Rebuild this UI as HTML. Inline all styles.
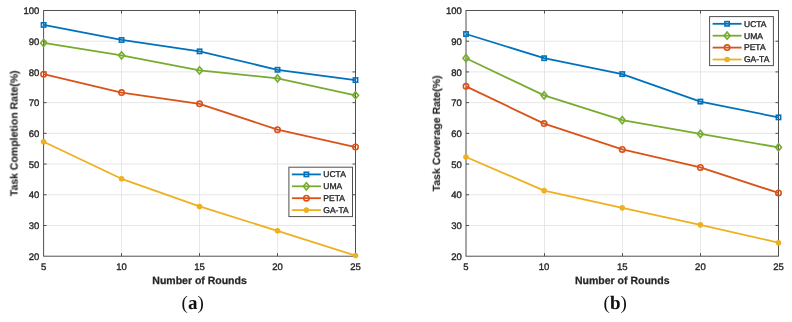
<!DOCTYPE html>
<html><head><meta charset="utf-8"><style>
html,body{margin:0;padding:0;background:#fff;}
svg{display:block;}
text{will-change:transform;text-rendering:geometricPrecision;}
.t{font-family:"Liberation Sans",sans-serif;font-size:9.5px;fill:#262626;stroke:#262626;stroke-width:0.35px;}
.lb{font-family:"Liberation Sans",sans-serif;font-size:10.5px;font-weight:bold;fill:#262626;stroke:#262626;stroke-width:0.25px;}
.lg{font-family:"Liberation Sans",sans-serif;font-size:8.5px;fill:#262626;stroke:#262626;stroke-width:0.35px;}
.sl{font-family:"Liberation Serif",serif;font-size:19px;fill:#111;}
</style></head><body>
<svg width="792" height="322" viewBox="0 0 792 322">
<rect width="792" height="322" fill="#fff"/>
<line x1="121.50" y1="10.5" x2="121.50" y2="256.2" stroke="#e6e6e6" stroke-width="1"/>
<line x1="199.50" y1="10.5" x2="199.50" y2="256.2" stroke="#e6e6e6" stroke-width="1"/>
<line x1="277.50" y1="10.5" x2="277.50" y2="256.2" stroke="#e6e6e6" stroke-width="1"/>
<line x1="43.6" y1="225.49" x2="355.5" y2="225.49" stroke="#e6e6e6" stroke-width="1"/>
<line x1="43.6" y1="194.78" x2="355.5" y2="194.78" stroke="#e6e6e6" stroke-width="1"/>
<line x1="43.6" y1="164.06" x2="355.5" y2="164.06" stroke="#e6e6e6" stroke-width="1"/>
<line x1="43.6" y1="133.35" x2="355.5" y2="133.35" stroke="#e6e6e6" stroke-width="1"/>
<line x1="43.6" y1="102.64" x2="355.5" y2="102.64" stroke="#e6e6e6" stroke-width="1"/>
<line x1="43.6" y1="71.92" x2="355.5" y2="71.92" stroke="#e6e6e6" stroke-width="1"/>
<line x1="43.6" y1="41.21" x2="355.5" y2="41.21" stroke="#e6e6e6" stroke-width="1"/>
<line x1="43.6" y1="225.49" x2="46.6" y2="225.49" stroke="#505050" stroke-width="1"/>
<line x1="355.5" y1="225.49" x2="352.5" y2="225.49" stroke="#505050" stroke-width="1"/>
<line x1="43.6" y1="194.78" x2="46.6" y2="194.78" stroke="#505050" stroke-width="1"/>
<line x1="355.5" y1="194.78" x2="352.5" y2="194.78" stroke="#505050" stroke-width="1"/>
<line x1="43.6" y1="164.06" x2="46.6" y2="164.06" stroke="#505050" stroke-width="1"/>
<line x1="355.5" y1="164.06" x2="352.5" y2="164.06" stroke="#505050" stroke-width="1"/>
<line x1="43.6" y1="133.35" x2="46.6" y2="133.35" stroke="#505050" stroke-width="1"/>
<line x1="355.5" y1="133.35" x2="352.5" y2="133.35" stroke="#505050" stroke-width="1"/>
<line x1="43.6" y1="102.64" x2="46.6" y2="102.64" stroke="#505050" stroke-width="1"/>
<line x1="355.5" y1="102.64" x2="352.5" y2="102.64" stroke="#505050" stroke-width="1"/>
<line x1="43.6" y1="71.92" x2="46.6" y2="71.92" stroke="#505050" stroke-width="1"/>
<line x1="355.5" y1="71.92" x2="352.5" y2="71.92" stroke="#505050" stroke-width="1"/>
<line x1="43.6" y1="41.21" x2="46.6" y2="41.21" stroke="#505050" stroke-width="1"/>
<line x1="355.5" y1="41.21" x2="352.5" y2="41.21" stroke="#505050" stroke-width="1"/>
<line x1="121.50" y1="256.2" x2="121.50" y2="253.2" stroke="#505050" stroke-width="1"/>
<line x1="121.50" y1="10.5" x2="121.50" y2="13.5" stroke="#505050" stroke-width="1"/>
<line x1="199.50" y1="256.2" x2="199.50" y2="253.2" stroke="#505050" stroke-width="1"/>
<line x1="199.50" y1="10.5" x2="199.50" y2="13.5" stroke="#505050" stroke-width="1"/>
<line x1="277.50" y1="256.2" x2="277.50" y2="253.2" stroke="#505050" stroke-width="1"/>
<line x1="277.50" y1="10.5" x2="277.50" y2="13.5" stroke="#505050" stroke-width="1"/>
<rect x="43.6" y="10.5" width="311.90" height="245.70" fill="none" stroke="#505050" stroke-width="1"/>
<polyline points="43.60,24.93 121.57,39.98 199.55,51.35 277.52,69.78 355.50,80.06" fill="none" stroke="#0072BD" stroke-width="1.8" stroke-linejoin="round"/>
<rect x="41.45" y="22.78" width="4.30" height="4.30" fill="none" stroke="#0072BD" stroke-width="1.6"/>
<rect x="119.42" y="37.83" width="4.30" height="4.30" fill="none" stroke="#0072BD" stroke-width="1.6"/>
<rect x="197.40" y="49.20" width="4.30" height="4.30" fill="none" stroke="#0072BD" stroke-width="1.6"/>
<rect x="275.38" y="67.63" width="4.30" height="4.30" fill="none" stroke="#0072BD" stroke-width="1.6"/>
<rect x="353.35" y="77.91" width="4.30" height="4.30" fill="none" stroke="#0072BD" stroke-width="1.6"/>
<polyline points="43.60,42.90 121.57,55.34 199.55,70.39 277.52,78.37 355.50,95.27" fill="none" stroke="#77AC30" stroke-width="1.8" stroke-linejoin="round"/>
<path d="M43.60 39.30L46.60 42.90L43.60 46.50L40.60 42.90Z" fill="none" stroke="#77AC30" stroke-width="1.6"/>
<path d="M121.57 51.74L124.57 55.34L121.57 58.94L118.57 55.34Z" fill="none" stroke="#77AC30" stroke-width="1.6"/>
<path d="M199.55 66.79L202.55 70.39L199.55 73.99L196.55 70.39Z" fill="none" stroke="#77AC30" stroke-width="1.6"/>
<path d="M277.52 74.77L280.52 78.37L277.52 81.97L274.52 78.37Z" fill="none" stroke="#77AC30" stroke-width="1.6"/>
<path d="M355.50 91.67L358.50 95.27L355.50 98.87L352.50 95.27Z" fill="none" stroke="#77AC30" stroke-width="1.6"/>
<polyline points="43.60,74.20 121.57,92.59 199.55,103.87 277.52,129.66 355.50,147.02" fill="none" stroke="#D95319" stroke-width="1.8" stroke-linejoin="round"/>
<circle cx="43.60" cy="74.20" r="2.7" fill="none" stroke="#D95319" stroke-width="1.6"/>
<circle cx="121.57" cy="92.59" r="2.7" fill="none" stroke="#D95319" stroke-width="1.6"/>
<circle cx="199.55" cy="103.87" r="2.7" fill="none" stroke="#D95319" stroke-width="1.6"/>
<circle cx="277.52" cy="129.66" r="2.7" fill="none" stroke="#D95319" stroke-width="1.6"/>
<circle cx="355.50" cy="147.02" r="2.7" fill="none" stroke="#D95319" stroke-width="1.6"/>
<polyline points="43.60,141.80 121.57,178.80 199.55,206.45 277.52,230.86 355.50,255.59" fill="none" stroke="#EDB120" stroke-width="1.8" stroke-linejoin="round"/>
<circle cx="43.60" cy="141.80" r="2.8" fill="#EDB120"/>
<circle cx="121.57" cy="178.80" r="2.8" fill="#EDB120"/>
<circle cx="199.55" cy="206.45" r="2.8" fill="#EDB120"/>
<circle cx="277.52" cy="230.86" r="2.8" fill="#EDB120"/>
<circle cx="355.50" cy="255.59" r="2.8" fill="#EDB120"/>
<text transform="translate(39.40 259.90)" text-anchor="end" class="t">20</text>
<text transform="translate(39.40 229.19)" text-anchor="end" class="t">30</text>
<text transform="translate(39.40 198.47)" text-anchor="end" class="t">40</text>
<text transform="translate(39.40 167.76)" text-anchor="end" class="t">50</text>
<text transform="translate(39.40 137.05)" text-anchor="end" class="t">60</text>
<text transform="translate(39.40 106.34)" text-anchor="end" class="t">70</text>
<text transform="translate(39.40 75.62)" text-anchor="end" class="t">80</text>
<text transform="translate(39.40 44.91)" text-anchor="end" class="t">90</text>
<text transform="translate(39.40 14.20)" text-anchor="end" class="t">100</text>
<text transform="translate(43.60 270.1)" text-anchor="middle" class="t">5</text>
<text transform="translate(121.57 270.1)" text-anchor="middle" class="t">10</text>
<text transform="translate(199.55 270.1)" text-anchor="middle" class="t">15</text>
<text transform="translate(277.52 270.1)" text-anchor="middle" class="t">20</text>
<text transform="translate(355.50 270.1)" text-anchor="middle" class="t">25</text>
<text x="199.55" y="283.9" text-anchor="middle" class="lb">Number of Rounds</text>
<text x="17.9" y="133.35" text-anchor="middle" class="lb" style="stroke-width:0.1px" transform="rotate(-90 17.9 133.35)">Task Completion Rate(%)</text>
<text x="192.7" y="309.0" text-anchor="middle" class="sl">(<tspan font-weight="bold">a</tspan>)</text>
<rect x="288.9" y="167.2" width="63.60" height="49.40" fill="#fff" stroke="#505050" stroke-width="1"/>
<line x1="291.90" y1="174.40" x2="320.90" y2="174.40" stroke="#0072BD" stroke-width="1.8"/>
<rect x="304.25" y="172.25" width="4.30" height="4.30" fill="none" stroke="#0072BD" stroke-width="1.6"/>
<text x="323.30" y="177.20" class="lg">UCTA</text>
<line x1="291.90" y1="186.30" x2="320.90" y2="186.30" stroke="#77AC30" stroke-width="1.8"/>
<path d="M306.40 182.70L309.40 186.30L306.40 189.90L303.40 186.30Z" fill="none" stroke="#77AC30" stroke-width="1.6"/>
<text x="323.30" y="189.10" class="lg">UMA</text>
<line x1="291.90" y1="198.20" x2="320.90" y2="198.20" stroke="#D95319" stroke-width="1.8"/>
<circle cx="306.40" cy="198.20" r="2.7" fill="none" stroke="#D95319" stroke-width="1.6"/>
<text x="323.30" y="201.00" class="lg">PETA</text>
<line x1="291.90" y1="210.10" x2="320.90" y2="210.10" stroke="#EDB120" stroke-width="1.8"/>
<circle cx="306.40" cy="210.10" r="2.8" fill="#EDB120"/>
<text x="323.30" y="212.90" class="lg">GA-TA</text>
<line x1="544.50" y1="10.5" x2="544.50" y2="256.2" stroke="#e6e6e6" stroke-width="1"/>
<line x1="622.50" y1="10.5" x2="622.50" y2="256.2" stroke="#e6e6e6" stroke-width="1"/>
<line x1="700.50" y1="10.5" x2="700.50" y2="256.2" stroke="#e6e6e6" stroke-width="1"/>
<line x1="466.0" y1="225.49" x2="778.5" y2="225.49" stroke="#e6e6e6" stroke-width="1"/>
<line x1="466.0" y1="194.78" x2="778.5" y2="194.78" stroke="#e6e6e6" stroke-width="1"/>
<line x1="466.0" y1="164.06" x2="778.5" y2="164.06" stroke="#e6e6e6" stroke-width="1"/>
<line x1="466.0" y1="133.35" x2="778.5" y2="133.35" stroke="#e6e6e6" stroke-width="1"/>
<line x1="466.0" y1="102.64" x2="778.5" y2="102.64" stroke="#e6e6e6" stroke-width="1"/>
<line x1="466.0" y1="71.92" x2="778.5" y2="71.92" stroke="#e6e6e6" stroke-width="1"/>
<line x1="466.0" y1="41.21" x2="778.5" y2="41.21" stroke="#e6e6e6" stroke-width="1"/>
<line x1="466.0" y1="225.49" x2="469.0" y2="225.49" stroke="#505050" stroke-width="1"/>
<line x1="778.5" y1="225.49" x2="775.5" y2="225.49" stroke="#505050" stroke-width="1"/>
<line x1="466.0" y1="194.78" x2="469.0" y2="194.78" stroke="#505050" stroke-width="1"/>
<line x1="778.5" y1="194.78" x2="775.5" y2="194.78" stroke="#505050" stroke-width="1"/>
<line x1="466.0" y1="164.06" x2="469.0" y2="164.06" stroke="#505050" stroke-width="1"/>
<line x1="778.5" y1="164.06" x2="775.5" y2="164.06" stroke="#505050" stroke-width="1"/>
<line x1="466.0" y1="133.35" x2="469.0" y2="133.35" stroke="#505050" stroke-width="1"/>
<line x1="778.5" y1="133.35" x2="775.5" y2="133.35" stroke="#505050" stroke-width="1"/>
<line x1="466.0" y1="102.64" x2="469.0" y2="102.64" stroke="#505050" stroke-width="1"/>
<line x1="778.5" y1="102.64" x2="775.5" y2="102.64" stroke="#505050" stroke-width="1"/>
<line x1="466.0" y1="71.92" x2="469.0" y2="71.92" stroke="#505050" stroke-width="1"/>
<line x1="778.5" y1="71.92" x2="775.5" y2="71.92" stroke="#505050" stroke-width="1"/>
<line x1="466.0" y1="41.21" x2="469.0" y2="41.21" stroke="#505050" stroke-width="1"/>
<line x1="778.5" y1="41.21" x2="775.5" y2="41.21" stroke="#505050" stroke-width="1"/>
<line x1="544.50" y1="256.2" x2="544.50" y2="253.2" stroke="#505050" stroke-width="1"/>
<line x1="544.50" y1="10.5" x2="544.50" y2="13.5" stroke="#505050" stroke-width="1"/>
<line x1="622.50" y1="256.2" x2="622.50" y2="253.2" stroke="#505050" stroke-width="1"/>
<line x1="622.50" y1="10.5" x2="622.50" y2="13.5" stroke="#505050" stroke-width="1"/>
<line x1="700.50" y1="256.2" x2="700.50" y2="253.2" stroke="#505050" stroke-width="1"/>
<line x1="700.50" y1="10.5" x2="700.50" y2="13.5" stroke="#505050" stroke-width="1"/>
<rect x="466.0" y="10.5" width="312.50" height="245.70" fill="none" stroke="#505050" stroke-width="1"/>
<polyline points="466.00,34.00 544.12,58.20 622.25,74.07 700.38,101.59 778.50,117.38" fill="none" stroke="#0072BD" stroke-width="1.8" stroke-linejoin="round"/>
<rect x="463.85" y="31.85" width="4.30" height="4.30" fill="none" stroke="#0072BD" stroke-width="1.6"/>
<rect x="541.98" y="56.05" width="4.30" height="4.30" fill="none" stroke="#0072BD" stroke-width="1.6"/>
<rect x="620.10" y="71.92" width="4.30" height="4.30" fill="none" stroke="#0072BD" stroke-width="1.6"/>
<rect x="698.23" y="99.44" width="4.30" height="4.30" fill="none" stroke="#0072BD" stroke-width="1.6"/>
<rect x="776.35" y="115.23" width="4.30" height="4.30" fill="none" stroke="#0072BD" stroke-width="1.6"/>
<polyline points="466.00,58.20 544.12,95.42 622.25,120.14 700.38,133.96 778.50,147.32" fill="none" stroke="#77AC30" stroke-width="1.8" stroke-linejoin="round"/>
<path d="M466.00 54.60L469.00 58.20L466.00 61.80L463.00 58.20Z" fill="none" stroke="#77AC30" stroke-width="1.6"/>
<path d="M544.12 91.82L547.12 95.42L544.12 99.02L541.12 95.42Z" fill="none" stroke="#77AC30" stroke-width="1.6"/>
<path d="M622.25 116.54L625.25 120.14L622.25 123.74L619.25 120.14Z" fill="none" stroke="#77AC30" stroke-width="1.6"/>
<path d="M700.38 130.36L703.38 133.96L700.38 137.56L697.38 133.96Z" fill="none" stroke="#77AC30" stroke-width="1.6"/>
<path d="M778.50 143.72L781.50 147.32L778.50 150.92L775.50 147.32Z" fill="none" stroke="#77AC30" stroke-width="1.6"/>
<polyline points="466.00,86.36 544.12,123.61 622.25,149.41 700.38,167.44 778.50,192.93" fill="none" stroke="#D95319" stroke-width="1.8" stroke-linejoin="round"/>
<circle cx="466.00" cy="86.36" r="2.7" fill="none" stroke="#D95319" stroke-width="1.6"/>
<circle cx="544.12" cy="123.61" r="2.7" fill="none" stroke="#D95319" stroke-width="1.6"/>
<circle cx="622.25" cy="149.41" r="2.7" fill="none" stroke="#D95319" stroke-width="1.6"/>
<circle cx="700.38" cy="167.44" r="2.7" fill="none" stroke="#D95319" stroke-width="1.6"/>
<circle cx="778.50" cy="192.93" r="2.7" fill="none" stroke="#D95319" stroke-width="1.6"/>
<polyline points="466.00,157.00 544.12,190.63 622.25,207.83 700.38,224.87 778.50,242.69" fill="none" stroke="#EDB120" stroke-width="1.8" stroke-linejoin="round"/>
<circle cx="466.00" cy="157.00" r="2.8" fill="#EDB120"/>
<circle cx="544.12" cy="190.63" r="2.8" fill="#EDB120"/>
<circle cx="622.25" cy="207.83" r="2.8" fill="#EDB120"/>
<circle cx="700.38" cy="224.87" r="2.8" fill="#EDB120"/>
<circle cx="778.50" cy="242.69" r="2.8" fill="#EDB120"/>
<text transform="translate(461.80 259.90)" text-anchor="end" class="t">20</text>
<text transform="translate(461.80 229.19)" text-anchor="end" class="t">30</text>
<text transform="translate(461.80 198.47)" text-anchor="end" class="t">40</text>
<text transform="translate(461.80 167.76)" text-anchor="end" class="t">50</text>
<text transform="translate(461.80 137.05)" text-anchor="end" class="t">60</text>
<text transform="translate(461.80 106.34)" text-anchor="end" class="t">70</text>
<text transform="translate(461.80 75.62)" text-anchor="end" class="t">80</text>
<text transform="translate(461.80 44.91)" text-anchor="end" class="t">90</text>
<text transform="translate(461.80 14.20)" text-anchor="end" class="t">100</text>
<text transform="translate(466.00 270.1)" text-anchor="middle" class="t">5</text>
<text transform="translate(544.12 270.1)" text-anchor="middle" class="t">10</text>
<text transform="translate(622.25 270.1)" text-anchor="middle" class="t">15</text>
<text transform="translate(700.38 270.1)" text-anchor="middle" class="t">20</text>
<text transform="translate(778.50 270.1)" text-anchor="middle" class="t">25</text>
<text x="622.25" y="283.9" text-anchor="middle" class="lb">Number of Rounds</text>
<text x="440.3" y="133.35" text-anchor="middle" class="lb" style="stroke-width:0.1px" transform="rotate(-90 440.3 133.35)">Task Coverage Rate(%)</text>
<text x="615.2" y="309.0" text-anchor="middle" class="sl">(<tspan font-weight="bold">b</tspan>)</text>
<rect x="709.6" y="16.6" width="63.80" height="49.00" fill="#fff" stroke="#505050" stroke-width="1"/>
<line x1="712.60" y1="23.80" x2="741.60" y2="23.80" stroke="#0072BD" stroke-width="1.8"/>
<rect x="724.95" y="21.65" width="4.30" height="4.30" fill="none" stroke="#0072BD" stroke-width="1.6"/>
<text x="744.00" y="26.60" class="lg">UCTA</text>
<line x1="712.60" y1="35.70" x2="741.60" y2="35.70" stroke="#77AC30" stroke-width="1.8"/>
<path d="M727.10 32.10L730.10 35.70L727.10 39.30L724.10 35.70Z" fill="none" stroke="#77AC30" stroke-width="1.6"/>
<text x="744.00" y="38.50" class="lg">UMA</text>
<line x1="712.60" y1="47.60" x2="741.60" y2="47.60" stroke="#D95319" stroke-width="1.8"/>
<circle cx="727.10" cy="47.60" r="2.7" fill="none" stroke="#D95319" stroke-width="1.6"/>
<text x="744.00" y="50.40" class="lg">PETA</text>
<line x1="712.60" y1="59.50" x2="741.60" y2="59.50" stroke="#EDB120" stroke-width="1.8"/>
<circle cx="727.10" cy="59.50" r="2.8" fill="#EDB120"/>
<text x="744.00" y="62.30" class="lg">GA-TA</text>
</svg>
</body></html>
